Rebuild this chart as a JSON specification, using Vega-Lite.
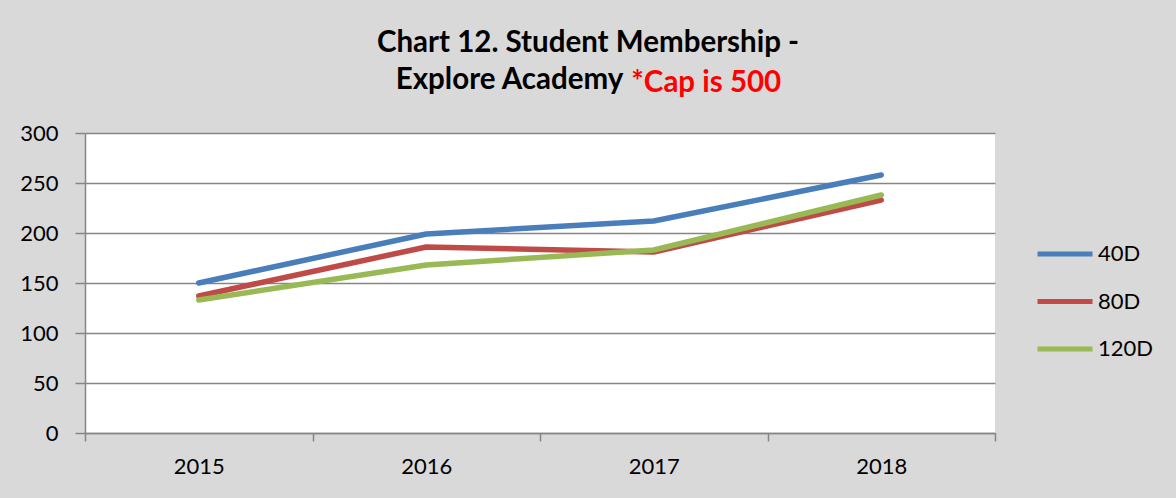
{
  "$schema": "https://vega.github.io/schema/vega-lite/v6.json",
  "width": 910,
  "height": 300,
  "autosize": {"type": "none"},
  "padding": {"left": 85, "top": 133, "right": 181, "bottom": 65},
  "background": "#d9d9d9",
  "view": {"fill": "white", "stroke": null},
  "title": {
    "text": ["Chart 12. Student Membership -", "Explore Academy\u00a0\u00a0\u00a0\u00a0\u00a0\u00a0\u00a0\u00a0\u00a0\u00a0\u00a0\u00a0\u00a0\u00a0\u00a0\u00a0\u00a0\u00a0\u00a0\u00a0\u00a0\u00a0\u200b"],
    "subtitle": "\u200b\u00a0\u00a0\u00a0\u00a0\u00a0\u00a0\u00a0\u00a0\u00a0\u00a0\u00a0\u00a0\u00a0\u00a0\u00a0\u00a0\u00a0\u00a0\u00a0\u00a0\u00a0\u00a0\u00a0\u00a0\u00a0\u00a0\u00a0\u00a0\u00a0\u00a0\u00a0\u00a0\u00a0*Cap is 500",
    "font": "Lato",
    "fontSize": 29.5,
    "fontWeight": "bold",
    "color": "#000000",
    "subtitleFont": "Lato",
    "subtitleFontSize": 29.5,
    "subtitleFontWeight": "bold",
    "subtitleColor": "#ff0000",
    "lineHeight": 37,
    "subtitleLineHeight": 37,
    "subtitlePadding": -27,
    "anchor": "middle",
    "frame": "group",
    "dx": 48,
    "offset": 24
  },
  "data": {
    "values": [
      {"year": "2015", "series": "40D", "value": 150},
      {"year": "2016", "series": "40D", "value": 199},
      {"year": "2017", "series": "40D", "value": 212},
      {"year": "2018", "series": "40D", "value": 258},
      {"year": "2015", "series": "80D", "value": 137},
      {"year": "2016", "series": "80D", "value": 186},
      {"year": "2017", "series": "80D", "value": 181},
      {"year": "2018", "series": "80D", "value": 233},
      {"year": "2015", "series": "120D", "value": 133},
      {"year": "2016", "series": "120D", "value": 168},
      {"year": "2017", "series": "120D", "value": 183},
      {"year": "2018", "series": "120D", "value": 238}
    ]
  },
  "mark": {"type": "line", "strokeWidth": 5.5, "strokeCap": "round", "strokeJoin": "round"},
  "encoding": {
    "x": {
      "field": "year",
      "type": "ordinal",
      "bandPosition": 0.5,
      "scale": {"type": "band", "paddingInner": 0, "paddingOuter": 0},
      "axis": {
        "title": null,
        "labelAngle": 0,
        "labelFont": "Lato",
        "labelFontSize": 22,
        "labelColor": "#000000",
        "labelPadding": 15,
        "tickBand": "extent",
        "tickSize": 8,
        "tickColor": "#868686",
        "tickWidth": 1.5,
        "domainColor": "#868686",
        "domainWidth": 1.5,
        "grid": false
      }
    },
    "y": {
      "field": "value",
      "type": "quantitative",
      "scale": {"domain": [0, 300], "nice": false},
      "axis": {
        "title": null,
        "values": [0, 50, 100, 150, 200, 250, 300],
        "labelFont": "Lato",
        "labelFontSize": 22,
        "labelColor": "#000000",
        "labelPadding": 17,
        "tickSize": 10,
        "tickColor": "#868686",
        "tickWidth": 1.5,
        "domainColor": "#868686",
        "domainWidth": 1.5,
        "grid": true,
        "gridColor": "#868686",
        "gridWidth": 1.5
      }
    },
    "color": {
      "field": "series",
      "type": "nominal",
      "sort": ["40D", "80D", "120D"],
      "scale": {"domain": ["40D", "80D", "120D"], "range": ["#4a7ebb", "#be4b48", "#98b954"]},
      "legend": {
        "title": null,
        "orient": "none",
        "legendX": 950,
        "legendY": 91,
        "symbolType": "stroke",
        "symbolSize": 3025,
        "symbolStrokeWidth": 5,
        "labelFont": "Lato",
        "labelFontSize": 22,
        "labelColor": "#000000",
        "labelOffset": 3,
        "rowPadding": 6.5,
        "padding": 0
      }
    }
  }
}
